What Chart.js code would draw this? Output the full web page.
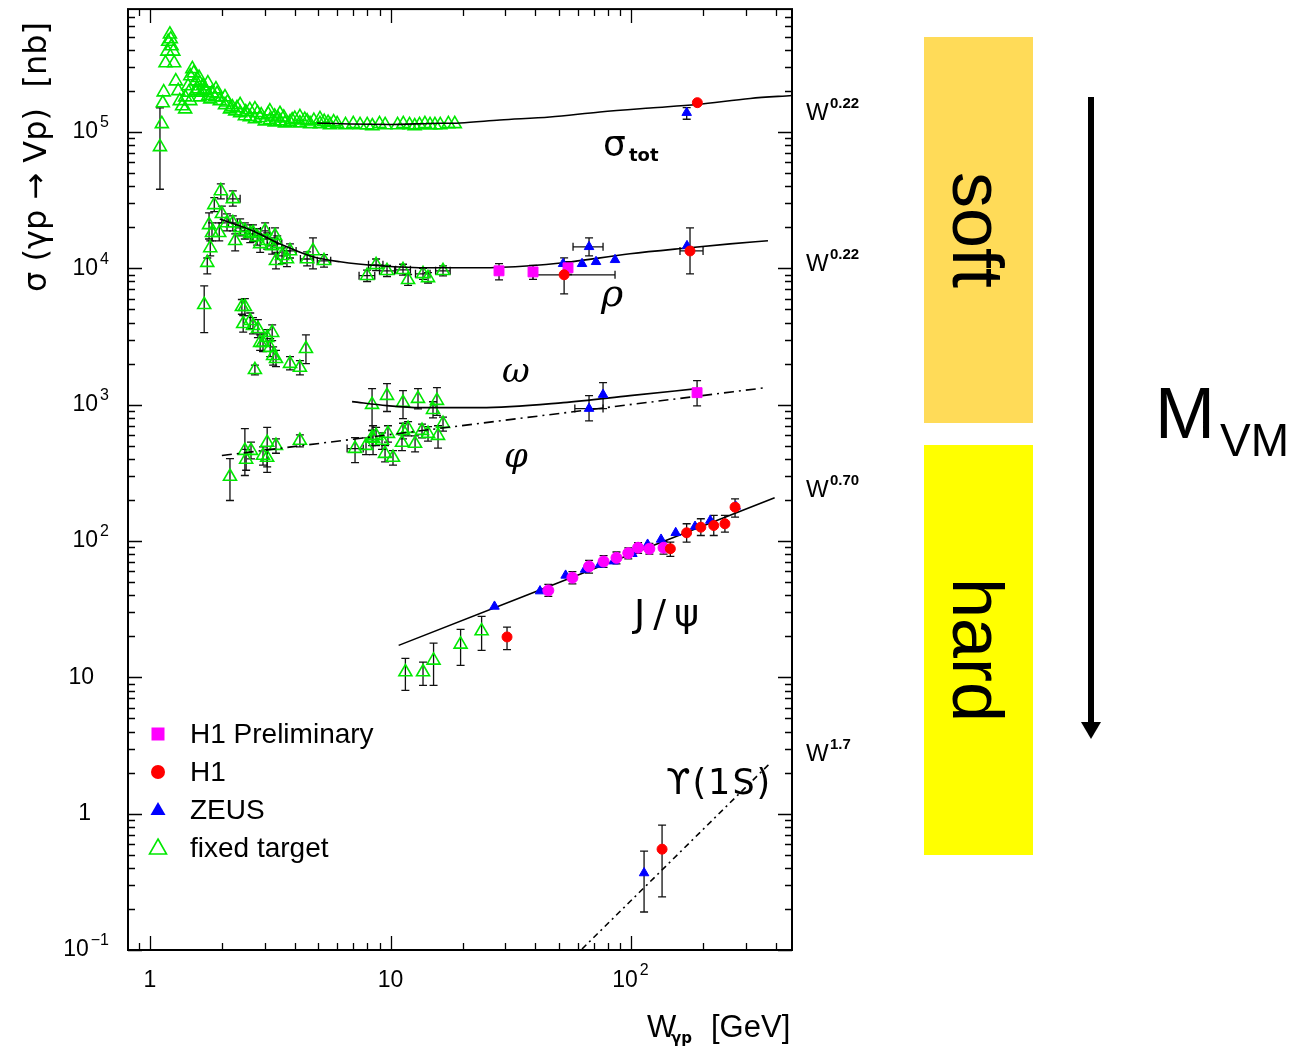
<!DOCTYPE html>
<html>
<head>
<meta charset="utf-8">
<script src="https://cdn.jsdelivr.net/npm/chart.js@4.4.1/dist/chart.umd.min.js"></script>
<style>
  html, body { margin: 0; padding: 0; background: #fff; }
  canvas { display: block; }
</style>
</head>
<body>
<canvas id="c" width="1300" height="1047"></canvas>
<script>
// W [GeV], sigma [nb]; rows are [W, sigma, sigmaLow, sigmaHigh, wLow, wHigh]
const sigTotFixed = [
  [1.10,77700,38000,150000],[1.12,114500],[1.13,163000],[1.14,196000],[1.16,320000],[1.18,390000],
  [1.19,460000],[1.21,520000],[1.22,480000],[1.23,427000],[1.25,390000],[1.26,320000],[1.28,236000],
  [1.31,200000],[1.33,169000],[1.36,155000],[1.40,180000],[1.40,147000],[1.44,217000],[1.45,195000],
  [1.47,257000],[1.47,169000],[1.50,290000],[1.52,270000],[1.55,236000],[1.55,200000],[1.58,206000],
  [1.60,250000],[1.61,228000],[1.61,180000],[1.65,195000],[1.66,217000],[1.70,205000],[1.71,200000],
  [1.74,228000],[1.75,185000],[1.78,174000],[1.81,193000],[1.86,180000],[1.88,206000],[1.90,190000],
  [1.95,169000],[2.05,158000],[2.05,180000],[2.10,165000],[2.15,147000],[2.2,152000],[2.26,142000],
  [2.3,150000],[2.37,138000],[2.37,158000],[2.48,131000],[2.5,140000],[2.60,129000],[2.6,145000],
  [2.73,124500],[2.73,147000],[2.8,138000],[2.87,127000],[2.9,133000],[3.0,120000],[3.1,135000],
  [3.15,122000],[3.15,142000],[3.3,118000],[3.3,130000],[3.4,126000],[3.47,120000],[3.47,136000],
  [3.6,128000],[3.64,116000],[3.82,118000],[3.9,122000],[4.0,125000],[4.2,116000],[4.2,129000],
  [4.4,123000],[4.5,120000],[4.63,114500],[4.8,121000],[5.09,114500],[5.09,124500],[5.3,119000],
  [5.5,117000],[5.6,112500],[5.8,118000],[6.0,114500],[6.5,112500],[7.0,114500],[7.47,112500],
  [8.0,112500],[8.4,110500],[9.0,114500],[9.5,112500],[10.7,112500],[11.3,114500],[12.0,112500],
  [12.6,110500],[13.2,112500],[13.9,114500],[14.6,112500],[15.3,112500],[16.1,112500],[17.4,114500],
  [18.5,114500]
];
const rhoFixed = [
  [1.73,11000,9100,11900],[1.78,14100,12350,15900],[1.81,18200,15900,21500],[1.76,20800,16400,25500],
  [1.85,29200,26000,33000],[1.97,36900,32300,41600],[2.21,32300,28600,36900,2.09,2.37],
  [1.99,25100,21500,28600],[1.94,18200,15900,21500],[2.09,21500,18800,25100],[2.26,15900,13400,17900],
  [2.21,21500,18800,24200,2.12,2.31],[2.37,19800,17300,23000,2.27,2.47],[2.48,18800,16400,21500,2.38,2.59],
  [2.61,17900,15400,20800,2.50,2.72],[2.68,18200,15700,20800],[2.79,17000,14800,19500,2.67,2.91],
  [2.87,15100,13100,17300],[3.01,18800,16400,21500,2.88,3.14],[3.07,15900,13800,18200],
  [3.22,14600,12700,16700,3.08,3.36],[3.31,17300,15100,19800],[3.38,15100,13100,17300,3.23,3.53],
  [3.34,11350,9900,12900],[3.54,12350,10800,14100,3.39,3.70],[3.71,11700,10300,13400],
  [3.82,13400,11900,15100,3.60,4.05],[4.50,11700,10400,13200,4.22,4.79],[4.76,13400,9900,16700],
  [5.29,11350,10200,12600,4.96,5.64],[7.99,8820,8000,9700,7.4,8.6],[8.71,10600,9600,11700,8.1,9.3],
  [9.67,9580,8700,10500,9.0,10.4],[11.27,9750,8900,10700,10.5,12.1],[11.83,8230,7500,9000],
  [13.65,9100,8300,10000,12.7,14.6],[14.32,8500,7800,9300],[16.53,9580,8800,10400,15.4,17.7]
];
const omegaLowFixed = [
  [1.68,5400,3370,7430],[2.41,5220,4600,5900],[2.48,5220,4500,6000],[2.44,3920,3400,4500],
  [2.61,4120,3600,4700],[2.68,3790,3300,4350],[2.81,3600,3100,4200],[2.87,2850,2500,3250],
  [2.95,2850,2450,3300],[3.07,3100,2700,3550],[3.22,3370,2950,3850],[3.16,2620,2250,3050],
  [3.25,2280,1950,2650],[3.34,2170,1900,2500],[2.73,1800,1650,1950],[3.82,2000,1800,2250],
  [4.20,1870,1650,2100],[4.45,2570,2000,3250]
];
const omegaFixed = [
  [8.38,1000,645,1310],[9.67,1164,890,1425],[11.27,1034,790,1266],[13.01,1106,930,1310],
  [15.6,1070,833,1332],[15.02,918,800,1050]
];
const phiFixed = [
  [2.15,297,198,402],[2.48,460,302,667],[2.51,396,330,470],[2.63,460,400,530],[2.95,423,360,490],
  [3.07,527,318,680],[3.07,409,350,470],[3.34,500,440,560],[4.20,545,490,600],[7.12,476,376,573,6.6,7.7],
  [7.91,500,430,570],[8.46,564,430,700],[8.71,592,500,680],[9.22,545,470,620],[9.49,437,380,500],
  [9.76,613,530,700],[10.24,409,360,460],[11.16,527,460,600],[11.27,645,560,730],[11.83,667,590,750],
  [12.65,518,450,590],[13.52,645,570,720],[14.32,613,540,690],[15.76,592,480,700],[16.53,725,640,810],
  [8.38,573,500,650]
];
const jpsiFixed = [
  [11.53,10.94,8.03,13.78],[13.65,10.94,8.74,12.94],[15.10,13.32,8.74,17.83],
  [19.56,17.43,12.24,22.49],[23.92,21.85,15.77,27.98]
];
const h1PrelimSquares = [
  [28.26,9580,8230,10800],[39.13,9400,8300,10500],[54.7,10080,9000,11200],[188.2,1224,980,1500]
];
const h1PrelimJpsi = [
  [45.3,43.4,39.2,48.0],[57.05,53.8,48.5,59.5],[66.9,65.1,58,72],[76.9,70.7,64,78],[87.0,75.3,68,83],
  [97.4,81.4,74,89],[107.0,89.2,81,97],[119.2,87.7,80,96],[136.5,89.2,80,99]
];
const h1Data = [
  [188.7,163900],
  [52.7,8960,6500,11940,39.1,85.8],[175.9,13400,9100,19800,159.8,199.3],
  [30.51,19.77,15.95,23.35],[145.7,87.7,77.2,98.0],[170.3,114.8,98.0,133.7],[195.1,126.2,109.7,145.5],
  [220.8,129.9,109.7,153.9],[245.7,133.7,116.0,153.9],[270.7,177,149.4,203.7],
  [134.6,0.549,0.245,0.823]
];
const zeusData = [
  [170.4,138500,123900,150600],
  [52.17,10790],[62.56,10790],[66.9,14370,12350,16700,57.4,76.5],[71.53,11160],[85.8,11540],[170.9,14600],
  [76.5,1184,935,1449],[66.9,935,760,1164,58.4,76.5],
  [27.06,33.1],[41.84,42.9],[53.46,55.9],[64.39,61.8],[74.3,67.3],[84.73,71.1],[101.3,80.6],
  [117.2,94.3],[133.3,102.6],[153.4,114.8],[184.6,127.7],[213.6,141.3],[272.5,179.2],
  [113.3,0.367,0.190,0.531]
];

// curves
const sigTotFitW = [4.95, 6.79, 10, 14.6, 19.45, 28.5, 46.0, 74.3, 120, 188, 313, 467];
const sigTotFitS = [116400, 114400, 113500, 115400, 116400, 122400, 128800, 140100, 149900, 159000, 176000, 185100];
const rhoFitW = [1.95, 2.68, 3.47, 4.76, 6.17, 9.05, 14.6, 23.6, 38.0, 52.2, 99, 171, 258, 371];
const rhoFitS = [23000, 18800, 15100, 12140, 11160, 10430, 10080, 10080, 10430, 10970, 12770, 14100, 15100, 15900];
const omegaFitW = [6.92, 9.67, 13.27, 23.6, 52.2, 99, 188];
const omegaFitS = [1052, 983, 950, 950, 1034, 1164, 1310];
const phiFitW = [1.99, 364];
const phiFitS = [423, 1332];
const jpsiFitW = [10.81, 395.5];
const jpsiFitS = [17.15, 207.2];
const upsFitW = [62.56, 378.4];
const upsFitS = [0.1017, 2.343];

// axes
const xMin = 0.81, xMax = 467, yMin = 0.1, yMax = 7.96e5;
const xTickVals = [1, 10, 100];
const xTickBase = ['1', '10', '10'];
const xTickExp = ['', '', '2'];
const yTickVals = [1e5, 1e4, 1e3, 100, 10, 1, 0.1];
const yTickBase = ['10', '10', '10', '10', '10', '1', '10'];
const yTickExp = ['5', '4', '3', '2', '', '', '\u22121'];
const legendNames = ['H1 Preliminary', 'H1', 'ZEUS', 'fixed target'];
const fitExps = ['0.22', '0.22', '0.70', '1.7'];

const GREEN = '#00e800', BLUE = '#0000ff', RED = '#ff0000', MAGENTA = '#ff00ff';

function toPts(rows) {
  return rows.map(r => ({ x: r[0], y: r[1], yLo: r[2], yHi: r[3], xLo: r[4], xHi: r[5] }));
}
function toLine(ws, ss) {
  return ws.map((w, i) => ({ x: w, y: ss[i] }));
}

const ftStyle = {
  pointStyle: 'triangle', pointRadius: 7.5, borderColor: GREEN, backgroundColor: 'rgba(0,0,0,0)',
  borderWidth: 1.6, showLine: false, errorBars: true, order: 6
};
function fitLine(ws, ss, dash) {
  return {
    type: 'line', data: toLine(ws, ss), borderColor: '#000', borderWidth: 1.6, pointRadius: 0,
    borderDash: dash || [], fill: false, cubicInterpolationMode: 'monotone', order: 5
  };
}

const datasets = [
  Object.assign({ label: 'fixed target', data: toPts(sigTotFixed) }, ftStyle),
  Object.assign({ label: 'fixed target', data: toPts(rhoFixed) }, ftStyle),
  Object.assign({ label: 'fixed target', data: toPts(omegaLowFixed) }, ftStyle),
  Object.assign({ label: 'fixed target', data: toPts(omegaFixed) }, ftStyle),
  Object.assign({ label: 'fixed target', data: toPts(phiFixed) }, ftStyle),
  Object.assign({ label: 'fixed target', data: toPts(jpsiFixed) }, ftStyle),
  fitLine(sigTotFitW, sigTotFitS),
  fitLine(rhoFitW, rhoFitS),
  fitLine(omegaFitW, omegaFitS),
  fitLine(phiFitW, phiFitS, [10, 5, 2, 5]),
  fitLine(jpsiFitW, jpsiFitS),
  fitLine(upsFitW, upsFitS, [6, 4, 2, 4]),
  { label: 'ZEUS', data: toPts(zeusData), pointStyle: 'triangle', pointRadius: 5.5, borderColor: BLUE,
    backgroundColor: BLUE, borderWidth: 1, errorBars: true, order: 3 },
  { label: 'H1 Preliminary', data: toPts(h1PrelimSquares), pointStyle: 'rect', pointRadius: 7, borderColor: MAGENTA,
    backgroundColor: MAGENTA, borderWidth: 1, errorBars: true, order: 2 },
  { label: 'H1 Preliminary', data: toPts(h1PrelimJpsi), pointStyle: 'circle', pointRadius: 5.5, borderColor: MAGENTA,
    backgroundColor: MAGENTA, borderWidth: 1, errorBars: true, order: 2 },
  { label: 'H1', data: toPts(h1Data), pointStyle: 'circle', pointRadius: 5, borderColor: RED,
    backgroundColor: RED, borderWidth: 1, errorBars: true, order: 1 }
];

// error bars under the markers
const errorBars = {
  id: 'errorBars',
  beforeDatasetsDraw(chart) {
    const ctx = chart.ctx, a = chart.chartArea;
    const xs = chart.scales.x, ys = chart.scales.y;
    ctx.save();
    ctx.beginPath();
    ctx.rect(a.left, a.top, a.right - a.left, a.bottom - a.top);
    ctx.clip();
    ctx.strokeStyle = '#111';
    ctx.lineWidth = 1.3;
    chart.data.datasets.forEach(ds => {
      if (!ds.errorBars) return;
      ds.data.forEach(p => {
        const px = xs.getPixelForValue(p.x), py = ys.getPixelForValue(p.y);
        ctx.beginPath();
        if (p.yLo != null) {
          const y1 = ys.getPixelForValue(p.yLo), y2 = ys.getPixelForValue(p.yHi);
          ctx.moveTo(px, y1); ctx.lineTo(px, y2);
          ctx.moveTo(px - 4, y1); ctx.lineTo(px + 4, y1);
          ctx.moveTo(px - 4, y2); ctx.lineTo(px + 4, y2);
        }
        if (p.xLo != null) {
          const x1 = xs.getPixelForValue(p.xLo), x2 = xs.getPixelForValue(p.xHi);
          ctx.moveTo(x1, py); ctx.lineTo(x2, py);
          ctx.moveTo(x1, py - 4); ctx.lineTo(x1, py + 4);
          ctx.moveTo(x2, py - 4); ctx.lineTo(x2, py + 4);
        }
        ctx.stroke();
      });
    });
    ctx.restore();
  }
};

function supText(ctx, base, exp, x, y, bf, ef, dy, align) {
  ctx.font = bf;
  const wb = ctx.measureText(base).width;
  ctx.font = ef;
  const we = exp ? ctx.measureText(exp).width + 2 : 0;
  let x0 = x;
  if (align === 'right') x0 = x - wb - we;
  if (align === 'center') x0 = x - wb / 2;
  ctx.textAlign = 'left';
  ctx.font = bf;
  ctx.fillText(base, x0, y);
  if (exp) {
    ctx.font = ef;
    ctx.fillText(exp, x0 + wb + 2, y - dy);
  }
}

const decor = {
  id: 'decor',
  afterDraw(chart) {
    const ctx = chart.ctx, a = chart.chartArea;
    const xs = chart.scales.x, ys = chart.scales.y;
    ctx.save();
    ctx.fillStyle = '#000';
    ctx.strokeStyle = '#000';

    // frame
    ctx.lineWidth = 2;
    ctx.strokeRect(a.left, a.top, a.right - a.left, a.bottom - a.top);

    // inward ticks on all sides
    ctx.lineWidth = 1.3;
    ctx.beginPath();
    for (let k = -1; k <= 2; k++) {
      for (let m = 1; m <= 9; m++) {
        const v = m * Math.pow(10, k);
        if (v < xMin || v > xMax) continue;
        const px = Math.round(xs.getPixelForValue(v)) + 0.5;
        const len = m === 1 ? 14 : 7;
        ctx.moveTo(px, a.bottom); ctx.lineTo(px, a.bottom - len);
        ctx.moveTo(px, a.top); ctx.lineTo(px, a.top + len);
      }
    }
    for (let k = -1; k <= 5; k++) {
      for (let m = 1; m <= 9; m++) {
        const v = m * Math.pow(10, k);
        if (v < yMin || v > yMax) continue;
        const py = Math.round(ys.getPixelForValue(v)) + 0.5;
        const len = m === 1 ? 14 : 7;
        ctx.moveTo(a.left, py); ctx.lineTo(a.left + len, py);
        ctx.moveTo(a.right, py); ctx.lineTo(a.right - len, py);
      }
    }
    ctx.stroke();

    // tick labels
    const tf = '23px "Liberation Sans", Arial, sans-serif';
    const ef = '16px "Liberation Sans", Arial, sans-serif';
    ctx.textBaseline = 'middle';
    yTickVals.forEach((v, i) => {
      const py = ys.getPixelForValue(v);
      if (yTickExp[i]) supText(ctx, yTickBase[i], yTickExp[i], 109, py, tf, ef, 9, 'right');
      else supText(ctx, yTickBase[i], '', yTickBase[i] === '1' ? 91 : 94, py, tf, ef, 0, 'right');
    });
    xTickVals.forEach((v, i) => {
      const px = xs.getPixelForValue(v);
      supText(ctx, xTickBase[i], xTickExp[i], px - (xTickExp[i] ? 6 : 0), 981, tf, ef, 10, 'center');
    });

    // axis titles
    ctx.textBaseline = 'alphabetic';
    ctx.save();
    ctx.translate(46, 157);
    ctx.rotate(-Math.PI / 2);
    ctx.font = '32px "DejaVu Sans", sans-serif';
    ctx.textAlign = 'center';
    ctx.fillText('\u03c3 (\u03b3p \u2192 Vp)  [nb]', 0, 0);
    ctx.restore();
    ctx.textAlign = 'left';
    ctx.font = '31px "Liberation Sans", Arial, sans-serif';
    ctx.fillText('W', 647, 1037);
    ctx.font = 'bold 15px "DejaVu Sans", sans-serif';
    ctx.fillText('\u03b3p', 671, 1043);
    ctx.font = '31px "Liberation Sans", Arial, sans-serif';
    ctx.fillText('[GeV]', 711, 1037);

    // curve labels
    ctx.font = '36px "DejaVu Sans", sans-serif';
    ctx.fillText('\u03c3', 603, 156);
    ctx.font = 'bold 18px "DejaVu Sans", sans-serif';
    ctx.fillText('tot', 629, 161);
    ctx.font = 'italic 38px "DejaVu Serif", serif';
    ctx.fillText('\u03c1', 601, 306);
    ctx.font = 'italic 34px "DejaVu Serif", serif';
    ctx.fillText('\u03c9', 502, 382);
    ctx.fillText('\u03c6', 504, 467);
    ctx.font = '38px "DejaVu Sans", sans-serif';
    ctx.letterSpacing = '8px';
    ctx.fillText('J/\u03c8', 634, 626);
    ctx.letterSpacing = '2px';
    ctx.font = '35px "DejaVu Sans", sans-serif';
    ctx.fillText('\u03d2(1S)', 666, 794);
    ctx.letterSpacing = '0px';

    // legend
    const lx = 158, ly = [734, 772, 810, 848];
    ctx.fillStyle = MAGENTA;
    ctx.fillRect(lx - 6.5, ly[0] - 6.5, 13, 13);
    ctx.fillStyle = RED;
    ctx.beginPath(); ctx.arc(lx, ly[1], 7, 0, Math.PI * 2); ctx.fill();
    ctx.fillStyle = BLUE;
    ctx.beginPath(); ctx.moveTo(lx, ly[2] - 8); ctx.lineTo(lx + 7.5, ly[2] + 5); ctx.lineTo(lx - 7.5, ly[2] + 5); ctx.closePath(); ctx.fill();
    ctx.strokeStyle = GREEN; ctx.lineWidth = 1.6;
    ctx.beginPath(); ctx.moveTo(lx, ly[3] - 9); ctx.lineTo(lx + 8.5, ly[3] + 6); ctx.lineTo(lx - 8.5, ly[3] + 6); ctx.closePath(); ctx.stroke();
    ctx.strokeStyle = '#000';
    ctx.fillStyle = '#000';
    ctx.font = '28px "Liberation Sans", Arial, sans-serif';
    ctx.textBaseline = 'middle';
    legendNames.forEach((n, i) => ctx.fillText(n, 190, ly[i] + 1));

    // power-law labels on the right
    ctx.textBaseline = 'alphabetic';
    [120, 271, 497, 761].forEach((by, i) => {
      ctx.font = '24px "Liberation Sans", Arial, sans-serif';
      ctx.fillText('W', 806, by);
      ctx.font = 'bold 15px "Liberation Sans", Arial, sans-serif';
      ctx.fillText(fitExps[i], 830, by - 12);
    });

    // soft / hard boxes
    ctx.fillStyle = '#ffdb58';
    ctx.fillRect(924, 37, 109, 386);
    ctx.fillStyle = '#ffff00';
    ctx.fillRect(924, 445, 109, 410);
    ctx.fillStyle = '#000';
    ctx.font = '72px "Liberation Sans", Arial, sans-serif';
    ctx.textAlign = 'center';
    [['soft', 230], ['hard', 650]].forEach(([t, cy]) => {
      ctx.save();
      ctx.translate(953, cy);
      ctx.rotate(Math.PI / 2);
      ctx.fillText(t, 0, 0);
      ctx.restore();
    });

    // arrow
    ctx.strokeStyle = '#000';
    ctx.lineWidth = 6;
    ctx.beginPath(); ctx.moveTo(1091, 97); ctx.lineTo(1091, 724); ctx.stroke();
    ctx.beginPath(); ctx.moveTo(1081, 722); ctx.lineTo(1101, 722); ctx.lineTo(1091, 739); ctx.closePath(); ctx.fill();

    // M_VM
    ctx.textAlign = 'left';
    ctx.font = '72px "Liberation Sans", Arial, sans-serif';
    ctx.fillText('M', 1155, 438);
    ctx.font = '46px "Liberation Sans", Arial, sans-serif';
    ctx.fillText('VM', 1220, 456);

    ctx.restore();
  }
};

new Chart(document.getElementById('c'), {
  type: 'scatter',
  data: { datasets: datasets },
  options: {
    responsive: false,
    animation: false,
    devicePixelRatio: 1,
    layout: { padding: { left: 128, top: 8, right: 508, bottom: 97 } },
    scales: {
      x: { type: 'logarithmic', min: xMin, max: xMax, display: false },
      y: { type: 'logarithmic', min: yMin, max: yMax, display: false }
    },
    plugins: { legend: { display: false }, tooltip: { enabled: false } }
  },
  plugins: [errorBars, decor]
});
</script>
</body>
</html>
